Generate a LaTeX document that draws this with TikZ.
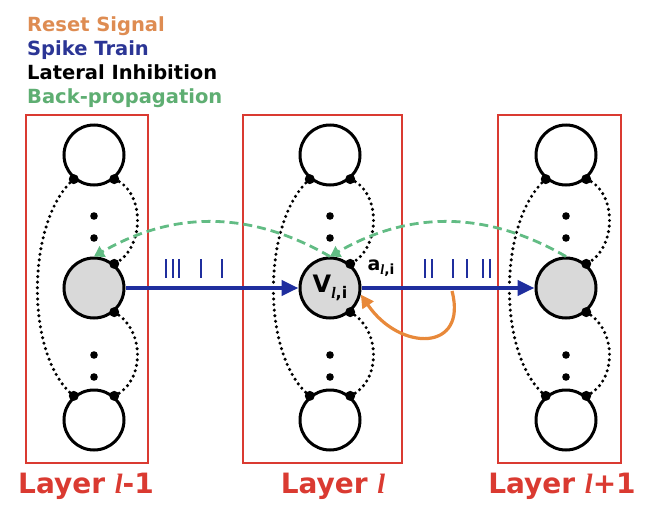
\documentclass[tikz,border=0pt]{standalone}
\usepackage{fontspec}
\setmainfont{DejaVu Sans}
\newfontfamily\ellfont{Liberation Serif}
\newcommand{\lidx}{{\ellfont\bfseries\itshape l}}
\usetikzlibrary{arrows.meta}

\definecolor{resetorange}{HTML}{E8893A}
\definecolor{legorange}{HTML}{DE8C52}
\definecolor{spikeblue}{HTML}{1F2E9E}
\definecolor{legblue}{HTML}{2B3595}
\definecolor{backgreen}{HTML}{62BC84}
\definecolor{leggreen}{HTML}{5EAE72}
\definecolor{layerred}{HTML}{DA3A31}
\definecolor{somagray}{HTML}{D9D9D9}

\tikzset{
  neuron/.style={circle, draw, line width=3pt, fill=white, minimum size=60pt, inner sep=0pt},
  soma/.style={neuron, fill=somagray},
  layerbox/.style={draw=layerred, line width=2.4pt},
  inhib/.style={line width=3.4pt, line cap=round, dash pattern=on 0pt off 5.6pt},
  spike/.style={spikeblue, line width=4.5pt, -{Triangle[length=17pt,width=15pt]}},
  spikemark/.style={spikeblue, line width=2.2pt},
  backprop/.style={backgreen, line width=2.8pt, dash pattern=on 9pt off 5pt, -{Triangle[length=10pt,width=12pt]}},
  reset/.style={resetorange, line width=3.2pt, -{Triangle[length=13pt,width=13pt]}},
  legend/.style={anchor=base west, inner sep=0pt, font=\fontsize{19.5}{23}\selectfont\bfseries},
  layerlab/.style={anchor=base, inner sep=0pt, text=layerred, font=\fontsize{28}{32}\selectfont\bfseries}
}

\begin{document}
\begin{tikzpicture}[x=1pt, y=-1pt]
  \useasboundingbox (0,0) rectangle (650,514);

  % Legend
  \node[legend, text=legorange] (legReset) at (27,31) {Reset Signal};
  \node[legend, text=legblue] (legSpike) at (27,55) {Spike Train};
  \node[legend] (legInhib) at (27,79) {Lateral Inhibition};
  \node[legend, text=leggreen] (legBack) at (27,103) {Back-propagation};

  % Layer boxes
  \foreach \nm/\bl/\br in {A/26/148, B/243/402, C/498/621} {
    \draw[layerbox] (\bl,115) rectangle (\br,463);
  }
  \node[layerlab] (labA) at (86,493) {Layer \lidx-1};
  \node[layerlab] (labB) at (333,493) {Layer \lidx};
  \node[layerlab] (labC) at (562,493) {Layer \lidx+1};

  % Neurons of each layer
  \foreach \nm/\cx in {A/94, B/330, C/566} {
    \node[neuron] (top\nm) at (\cx,155) {};
    \node[neuron] (bot\nm) at (\cx,420) {};
    \foreach \dy in {216,238,355,377}
      \fill (\cx,\dy) circle (3.8pt);
  }
  \node[soma] (midA) at (94,288) {};
  \node[soma] (midB) at (330,288) {\fontsize{24}{25}\selectfont\bfseries V\raisebox{-6pt}{\fontsize{16}{16}\selectfont\lidx,i}};
  \node[soma] (midC) at (566,288) {};

  % Lateral inhibition
  \foreach \nm in {A,B,C} {
    \draw[inhib] (top\nm.-130) .. controls +(-48,42) and +(-49,-39) .. (bot\nm.130);
    \draw[inhib] (top\nm.-50) .. controls +(31,12) and +(31,-15) .. (mid\nm.50);
    \draw[inhib] (mid\nm.-50) .. controls +(31,17) and +(31,-14) .. (bot\nm.50);
    \foreach \a in {-130,-50} \fill (top\nm.\a) circle (5pt);
    \foreach \a in {50,-50} \fill (mid\nm.\a) circle (5pt);
    \foreach \a in {130,50} \fill (bot\nm.\a) circle (5pt);
  }

  % Back-propagation
  \draw[backprop] (midB.north) to[bend right=30] (midA.north);
  \draw[backprop] (midC.north) to[bend right=30] (midB.north);

  % Spike trains
  \draw[spike] (midA) -- (midB);
  \draw[spike] (midB) -- (midC);
  \foreach \sx in {166,173,179,201,222}
    \draw[spikemark] (\sx,259) -- (\sx,278);
  \foreach \sx in {425,432,453,467,483,490}
    \draw[spikemark] (\sx,259) -- (\sx,278);
  \node (actB) at (381,268) {\fontsize{19}{20}\selectfont\bfseries a\raisebox{-4pt}{\fontsize{14}{14}\selectfont\lidx,i}};

  % Reset signal
  \coordinate (tap) at (452,291);
  \draw[reset] (tap) .. controls (468,352) and (400,352) .. (midB.-12);
\end{tikzpicture}
\end{document}
